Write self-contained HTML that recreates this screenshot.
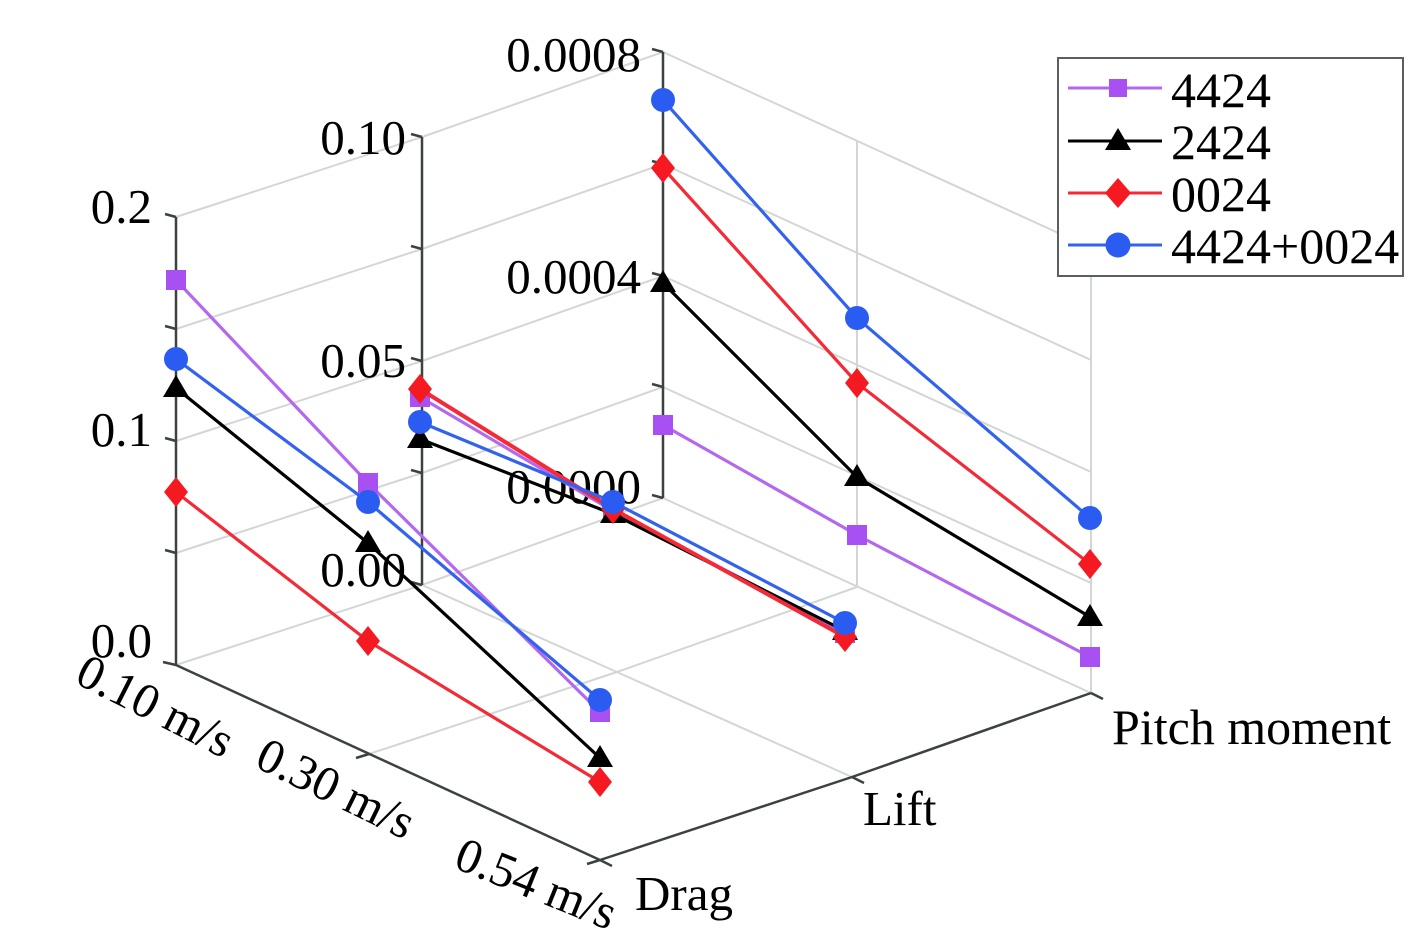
<!DOCTYPE html>
<html>
<head>
<meta charset="utf-8">
<style>
  html, body { margin:0; padding:0; background:#ffffff; }
  svg { display:block; }
  text { font-family: "Liberation Serif", "DejaVu Serif", serif; fill:#000; }
</style>
</head>
<body>
<svg width="1418" height="942" viewBox="0 0 1418 942" xmlns="http://www.w3.org/2000/svg">
  <rect x="0" y="0" width="1418" height="942" fill="#ffffff"/>

  <!-- Gridlines -->
  <g stroke="#d4d6d6" stroke-width="2" fill="none">
    <polyline points="176,217 422,137 663,52"/>
    <polyline points="176,329 422,249 663,164"/>
    <polyline points="176,441 422,361 663,276"/>
    <polyline points="176,553 422,473 663,387"/>
    <polyline points="176,665 422,585 663,498"/>
    <line x1="663" y1="52" x2="1091" y2="248"/>
    <line x1="663" y1="164" x2="1091" y2="360"/>
    <line x1="663" y1="276" x2="1091" y2="472"/>
    <line x1="663" y1="387" x2="1091" y2="583"/>
    <line x1="663" y1="498" x2="1091" y2="693"/>
    <line x1="857" y1="141" x2="857" y2="587"/>
    <line x1="1091" y1="248" x2="1091" y2="693"/>
    <polyline points="369,754 617,672 857,587"/>
    <line x1="422" y1="585" x2="852" y2="777"/>
  </g>

  <!-- Axes -->
  <g stroke="#3c4242" stroke-width="2.5" fill="none">
    <line x1="176" y1="217" x2="176" y2="665"/>
    <line x1="422" y1="137" x2="422" y2="585"/>
    <line x1="663" y1="52" x2="663" y2="498"/>
    <line x1="176" y1="665" x2="600" y2="860"/>
    <polyline points="600,860 852,777 1091,693"/>
    <path d="M176,217 l-11,-3 M176,329 l-11,-3 M176,441 l-11,-3 M176,553 l-11,-3 M176,665 l-13,-3"/>
    <path d="M422,137 l-11,-3 M422,249 l-11,-3 M422,361 l-11,-3 M422,473 l-11,-3 M422,585 l-11,-3"/>
    <path d="M663,52 l-11,-3 M663,164 l-11,-3 M663,276 l-11,-3 M663,387 l-11,-3 M663,498 l-11,-3"/>
    <path d="M369,754 l-13,4 M600,860 l-13,4"/>
    <path d="M600,860 l12,6 M852,777 l12,6 M1091,693 l12,6"/>
  </g>

  <!-- Tick labels -->
  <g font-size="49">
    <text x="152" y="223" text-anchor="end">0.2</text>
    <text x="152" y="446" text-anchor="end">0.1</text>
    <text x="152" y="657" text-anchor="end">0.0</text>
    <text x="406" y="154" text-anchor="end">0.10</text>
    <text x="406" y="377" text-anchor="end">0.05</text>
    <text x="406" y="586" text-anchor="end">0.00</text>
    <text x="641" y="71" text-anchor="end">0.0008</text>
    <text x="641" y="293" text-anchor="end">0.0004</text>
    <text x="641" y="503" text-anchor="end">0.0000</text>

    <text x="0" y="0" transform="translate(73,682) rotate(27)">0.10 m/s</text>
    <text x="0" y="0" transform="translate(253,766) rotate(26)">0.30 m/s</text>
    <text x="0" y="0" transform="translate(452,867) rotate(22)">0.54 m/s</text>

    <text x="635" y="910">Drag</text>
    <text x="863" y="825">Lift</text>
    <text x="1112" y="744" font-size="50">Pitch moment</text>
  </g>

  <!-- Series: 4424 -->
  <g stroke="#b468ee" stroke-width="3.2" fill="none">
    <polyline points="176,280 368,483 600,712"/>
    <polyline points="420,397 613,511 845,633"/>
    <polyline points="663,425 857,535 1090,657"/>
  </g>
  <g fill="#a950f2">
    <rect x="166" y="270" width="20" height="20"/>
    <rect x="358" y="473" width="20" height="20"/>
    <rect x="590" y="702" width="20" height="20"/>
    <rect x="410" y="387" width="20" height="20"/>
    <rect x="603" y="501" width="20" height="20"/>
    <rect x="835" y="623" width="20" height="20"/>
    <rect x="653" y="415" width="20" height="20"/>
    <rect x="847" y="525" width="20" height="20"/>
    <rect x="1080" y="647" width="20" height="20"/>
  </g>

  <!-- Series: 2424 -->
  <g stroke="#000" stroke-width="3.2" fill="none">
    <polyline points="176,388 368,543 600,758"/>
    <polyline points="420,439 613,514 845,631"/>
    <polyline points="663,283 857,477 1090,617"/>
  </g>
  <g fill="#000">
    <polygon points="176,375 163,397 189,397"/>
    <polygon points="368,530 355,552 381,552"/>
    <polygon points="600,745 587,767 613,767"/>
    <polygon points="420,426 407,448 433,448"/>
    <polygon points="613,501 600,523 626,523"/>
    <polygon points="845,618 832,640 858,640"/>
    <polygon points="663,270 650,292 676,292"/>
    <polygon points="857,464 844,486 870,486"/>
    <polygon points="1090,604 1077,626 1103,626"/>
  </g>

  <!-- Series: 0024 -->
  <g stroke="#f42a36" stroke-width="3.2" fill="none">
    <polyline points="176,492 368,641 600,782"/>
    <polyline points="420,389 613,509 845,637" stroke-width="4"/>
    <polyline points="663,168 857,383 1090,564"/>
  </g>
  <g fill="#f51a22">
    <polygon points="176,477 188,492 176,507 164,492"/>
    <polygon points="368,626 380,641 368,656 356,641"/>
    <polygon points="600,767 612,782 600,797 588,782"/>
    <polygon points="420,374 432,389 420,404 408,389"/>
    <polygon points="613,494 625,509 613,524 601,509"/>
    <polygon points="845,622 857,637 845,652 833,637"/>
    <polygon points="663,153 675,168 663,183 651,168"/>
    <polygon points="857,368 869,383 857,398 845,383"/>
    <polygon points="1090,549 1102,564 1090,579 1078,564"/>
  </g>

  <!-- Series: 4424+0024 -->
  <g stroke="#3362ef" stroke-width="3.2" fill="none">
    <polyline points="176,359 368,502 600,700"/>
    <polyline points="420,422 613,502 845,623"/>
    <polyline points="663,100 857,318 1090,518"/>
  </g>
  <g fill="#2b5cf2">
    <circle cx="176" cy="359" r="12"/>
    <circle cx="368" cy="502" r="12"/>
    <circle cx="600" cy="700" r="12"/>
    <circle cx="420" cy="422" r="12"/>
    <circle cx="613" cy="502" r="12"/>
    <circle cx="845" cy="623" r="12"/>
    <circle cx="663" cy="100" r="12"/>
    <circle cx="857" cy="318" r="12"/>
    <circle cx="1090" cy="518" r="12"/>
  </g>

  <!-- Legend -->
  <rect x="1058" y="58" width="345" height="218" fill="#ffffff" stroke="#5a5f5f" stroke-width="2"/>
  <g stroke-width="3">
    <line x1="1068" y1="88" x2="1162" y2="88" stroke="#b468ee"/>
    <line x1="1068" y1="141" x2="1162" y2="141" stroke="#000"/>
    <line x1="1068" y1="193" x2="1162" y2="193" stroke="#f42a36"/>
    <line x1="1068" y1="245" x2="1162" y2="245" stroke="#3362ef"/>
  </g>
  <rect x="1109" y="79" width="18" height="18" fill="#a950f2"/>
  <polygon points="1118,128 1105,150 1131,150" fill="#000"/>
  <polygon points="1118,178 1131,193 1118,208 1105,193" fill="#f51a22"/>
  <circle cx="1118" cy="245" r="12.5" fill="#2b5cf2"/>
  <g font-size="50">
    <text x="1171" y="107">4424</text>
    <text x="1171" y="159">2424</text>
    <text x="1171" y="211">0024</text>
    <text x="1171" y="263">4424+0024</text>
  </g>
</svg>
</body>
</html>
